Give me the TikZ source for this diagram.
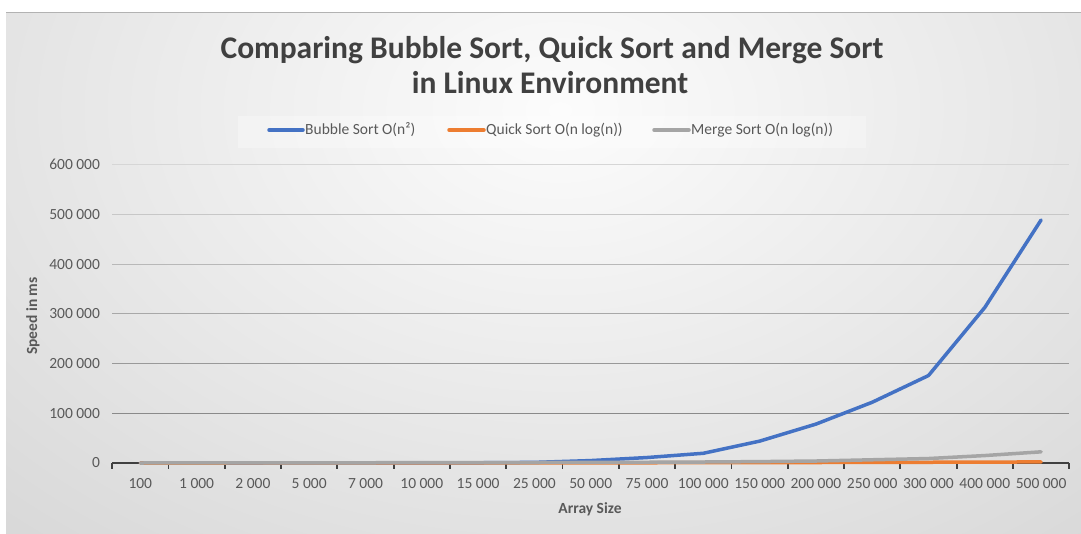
\documentclass[tikz,border=0pt]{standalone}
\usepackage{fontspec}
\setmainfont{Carlito}
\definecolor{bubble}{HTML}{4472C4}
\definecolor{quick}{HTML}{ED7D31}
\definecolor{merge}{HTML}{A5A5A5}
\definecolor{axistxt}{HTML}{595959}
\definecolor{titletxt}{HTML}{404040}
\definecolor{axisdark}{HTML}{404040}
\definecolor{bgout}{HTML}{C4C4C4}
\definecolor{bgin}{HTML}{FCFCFC}
\begin{document}
\begin{tikzpicture}[x=1pt,y=-1pt,
  ticklbl/.style={font=\fontsize{15.5}{16}\selectfont, text=axistxt, inner sep=0pt},
  ylbl/.style={font=\fontsize{15.5}{16}\selectfont, text=axistxt, inner sep=0pt, anchor=east},
  axtitle/.style={font=\fontsize{15.5}{16}\selectfont\bfseries, text=axistxt, inner sep=0pt},
  legtxt/.style={font=\fontsize{15.5}{16}\selectfont, text=axistxt, inner sep=0pt, anchor=west},
  ttl/.style={font=\fontsize{31.5}{34}\selectfont\bfseries, text=titletxt, inner sep=0pt, anchor=base},
  series/.style={line width=3.5pt, line join=round, line cap=round},
  legline/.style={line width=3.5pt, line cap=round}]
\useasboundingbox (0,0) rectangle (1081,533);
% background
\begin{scope}
  \clip (6,12) rectangle (1081,533);
  \fill[bgout] (6,12) rectangle (1081,533);
  \shade[inner color=bgin, outer color=bgout] (560,110) ellipse [x radius=1300pt, y radius=900pt];
\end{scope}
\draw[black!30, line width=1pt] (6,12.5) -- (1081,12.5);
% title
\node[ttl] (t1) at (552,58) {Comparing Bubble Sort, Quick Sort and Merge Sort};
\node[ttl] (t2) at (550,93) {in Linux Environment};
% legend
\fill[white, opacity=0.3] (238,116) rectangle (866,148);
\coordinate (lb1) at (269,130); \coordinate (lb2) at (303,130);
\coordinate (lo1) at (449,130); \coordinate (lo2) at (484,130);
\coordinate (lg1) at (654,130); \coordinate (lg2) at (689,130);
\draw[legline, bubble] (lb1) -- (lb2);
\draw[legline, quick] (lo1) -- (lo2);
\draw[legline, merge] (lg1) -- (lg2);
\node[legtxt] (lbt) at (305,130) {Bubble Sort O(n²)};
\node[legtxt] (lot) at (486,130) {Quick Sort O(n log(n))};
\node[legtxt] (lgt) at (691,130) {Merge Sort O(n log(n))};
% axis titles
\node[axtitle] (xt) at (590,509) {Array Size};
\node[axtitle, rotate=90] (yt) at (33,316) {Speed in ms};
% plot area
\begin{scope}[shift={(140.3pt,-463pt)}, x=56.3pt, y=0.497pt]
  \foreach \v/\g in {100/46,200/40,300/34,400/28,500/22,600/16}
    \draw[black!\g, line width=1pt] (-0.5,\v) -- (16.5,\v);
  \foreach \v/\t in {0/0,100/100 000,200/200 000,300/300 000,400/400 000,500/500 000,600/600 000}
    \node[ylbl] (y\v) at ([xshift=-12pt]-0.5,\v) {\t};
  \foreach \t [count=\i from 0] in {100,1 000,2 000,5 000,7 000,10 000,15 000,25 000,50 000,75 000,100 000,150 000,200 000,250 000,300 000,400 000,500 000}
    \node[ticklbl] (x\i) at ([yshift=-21pt]\i,0) {\t};
  \draw[axisdark, line width=2.6pt] (-0.5,0) -- (16.5,0);
  \foreach \k in {0,...,17}
    \draw[axisdark, line width=1.8pt] (\k-0.5,0) -- ++(0pt,-5.5pt);
  % bubble
  \draw[series, bubble] plot coordinates {(0,0.00002) (1,0.002) (2,0.0078) (3,0.049) (4,0.096) (5,0.196) (6,0.44) (7,1.222) (8,4.89) (9,11.0) (10,19.56) (11,44.0) (12,78.24) (13,122.25) (14,176.0) (15,313.0) (16,489.0)};
  % quick
  \draw[series, quick] plot coordinates {(0,0) (1,0.01) (2,0.02) (3,0.05) (4,0.07) (5,0.1) (6,0.15) (7,0.25) (8,0.4) (9,0.5) (10,0.6) (11,0.8) (12,1.0) (13,1.2) (14,1.5) (15,1.8) (16,2.2)};
  % merge
  \draw[series, merge] plot coordinates {(0,0.01) (1,0.1) (2,0.2) (3,0.4) (4,0.5) (5,0.6) (6,0.8) (7,1.0) (8,1.2) (9,1.5) (10,2.0) (11,2.8) (12,4.0) (13,6.5) (14,9.0) (15,15.0) (16,22.5)};
\end{scope}
\end{tikzpicture}
\end{document}
